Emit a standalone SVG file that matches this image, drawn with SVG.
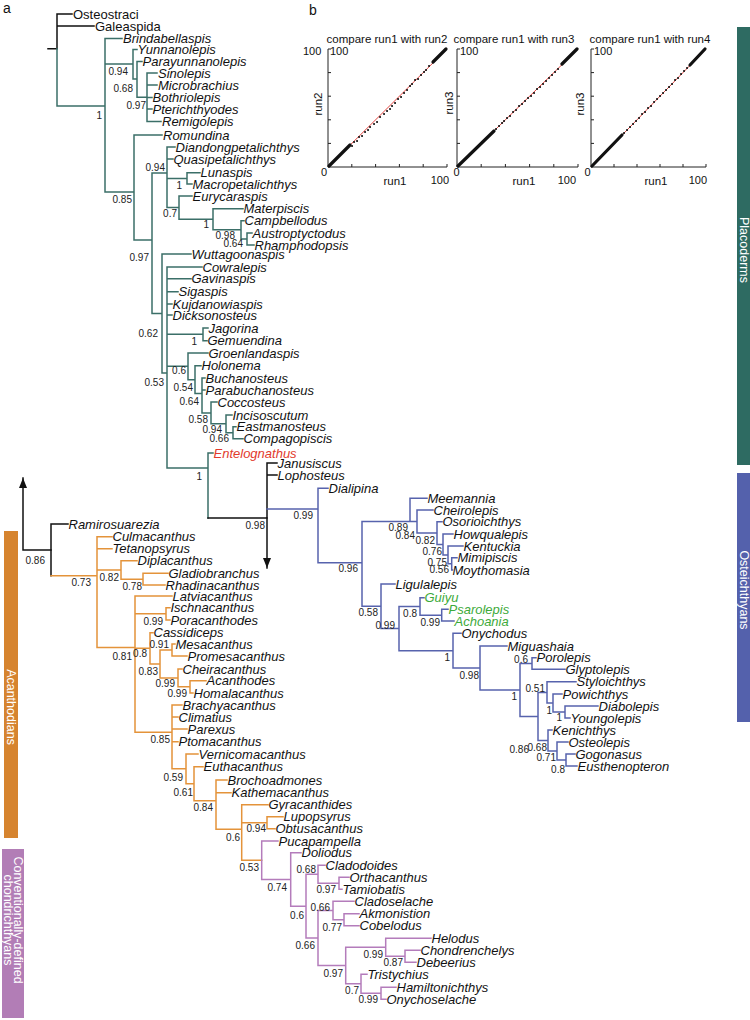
<svg xmlns="http://www.w3.org/2000/svg" width="750" height="1020" viewBox="0 0 750 1020">
<style>
.lf{font-family:"Liberation Sans",Arial,sans-serif;font-size:13px;font-style:italic;fill:#111}
.np{font-family:"Liberation Sans",Arial,sans-serif;font-size:13px;fill:#111}
.s{font-family:"Liberation Sans",Arial,sans-serif;font-size:10px;fill:#222;text-anchor:end}
.ax{font-family:"Liberation Sans",Arial,sans-serif;font-size:11px;fill:#111}
.axm{font-family:"Liberation Sans",Arial,sans-serif;font-size:11.5px;fill:#111;text-anchor:middle}
.pl{font-family:"Liberation Sans",Arial,sans-serif;font-size:14px;fill:#111}
.band{font-family:"Liberation Sans",Arial,sans-serif;font-size:12.5px;fill:#fff;text-anchor:middle}
.br{fill:none;stroke-width:1.5;stroke-linecap:square}
.k{stroke:#111}.te{stroke:#3b6f68}.bl{stroke:#5763ad}.or{stroke:#e4933a}.pu{stroke:#b47cbb}
.red{fill:#e23a2c}.grn{fill:#3daa3a}
.axis{fill:none;stroke:#222;stroke-width:1}
.rl{fill:none;stroke:#e0302a;stroke-width:0.9}
.dn{fill:none;stroke:#111;stroke-width:3.2;stroke-linecap:round}
.dt{fill:none;stroke:#111;stroke-width:2;stroke-linecap:round}
</style>
<defs>
<marker id="ah" viewBox="0 0 10 8" refX="10" refY="4" markerWidth="10" markerHeight="8" markerUnits="userSpaceOnUse" orient="auto"><path d="M0 0L10 4L0 8z" fill="#111"/></marker>
</defs>

<!-- panel labels -->
<text class="pl" x="3" y="13">a</text>
<text class="pl" x="309" y="15">b</text>

<!-- clade bands -->
<g id="band-placoderms"><rect x="737" y="27" width="13" height="438" fill="#2e6b62"/><text class="band" transform="translate(739.5,250) rotate(90)">Placoderms</text></g>
<g id="band-osteichthyans"><rect x="737" y="473" width="13" height="249" fill="#5461ac"/><text class="band" transform="translate(739.5,590) rotate(90)">Osteichthyans</text></g>
<g id="band-acanthodians"><rect x="4" y="531" width="14" height="307" fill="#d6842f"/><text class="band" transform="translate(6.5,707) rotate(90)">Acanthodians</text></g>
<g id="band-chondrichthyans"><rect x="2" y="849" width="22" height="169" fill="#b27db6"/><text class="band" transform="translate(14,920) rotate(90)">Conventionally-defined</text><text class="band" transform="translate(4,920) rotate(90)">chondrichthyans</text></g>

<!-- connectors -->
<g id="connectors">
<path class="br k" d="M48 48.7H57M57 14V48.7M57 14H72M57 26H94"/>
<path class="br te" d="M57 48.7V106H105M105 38.5V192M105 38.5H122
M105 64H133M133 49.5V79M133 49.5H137
M133 79H137M137 61.5V97.25M137 61.5H142
M137 97.25H147M147 73V121.5M147 73H157M147 85H157M147 97.5H152M147 109H152M147 121.5H161
M105 192H134M134 135V240M134 135H162
M134 240H152M152 173V313.5
M152 173H167M167 147V207.6M167 147H175M167 159H173
M167 178.4H187M187 172.7V184M187 172.7H200M187 184H192
M167 207.6H179M179 196V219.3M179 196H192
M179 219.3H213M213 208.7V229.85M213 208.7H243
M213 229.85H241M241 220.7V239M241 220.7H244
M241 239H247M247 233V245M247 233H252M247 245H254
M152 313.5H162M162 254V373M162 254H191
M162 373H167M167 267V468
M167 267H202M167 278.7H191M167 291.7H178M167 304H172M167 315H172
M167 334.35H203M203 328V340.7M203 328H208M203 340.7H207
M167 366.3H188M188 353V379.7M188 353H208
M188 379.7H195M195 365.7V393.6M195 365.7H201
M195 393.6H202M202 378V412.9M202 378H205M202 390H205
M202 412.9H211M211 402V423.85M211 402H217
M211 423.85H226M226 415V432.7M226 415H232
M226 432.7H233M233 426.7V438.7M233 426.7H236M233 438.7H243
M167 468H208M208 453V518M208 453H213"/>
<path class="br k" d="M208 518H267M267 463V518M267 463H277M267 475H277"/>
<path class="br k" d="M267 518V568" marker-end="url(#ah)"/>
<path class="br k" d="M51 550H23V478" marker-end="url(#ah)"/>
<path class="br k" d="M51 524V575.75M51 524H68"/>
<path class="br bl" d="M267 509H318M318 488.3V562.7M318 488.3H328
M318 562.7H362M362 521.5V606.3
M362 521.5H410M410 498.3V521.5M410 498.3H427
M410 521.5H417M417 510V533.1M417 510H433
M417 533.1H437M437 521.7V544.5M437 521.7H442
M437 544.5H443M443 534V554.9M443 534H453
M443 554.9H448M448 546V563.85M448 546H463
M448 563.85H451.7M451.7 557.7V570M451.7 557.7H457M451.7 570H452.5
M362 606.3H381M381 584V628.5M381 584H395
M381 628.5H399M399 606.4V650.7
M399 606.4H420M420 597.7V615.15M420 597.7H424
M420 615.15H441.7M441.7 609.3V621M441.7 609.3H448M441.7 621H454
M399 650.7H453M453 633.3V668M453 633.3H461
M453 668H480M480 646V690M480 646H507
M480 690H520M520 663.5V716.4
M520 663.5H532M532 657.7V669.3M532 657.7H536M532 669.3H565
M520 716.4H538M538 692.4V740.5
M538 692.4H547M547 681.7V703M547 681.7H576
M547 703H553M553 694V712M553 694H562
M553 712H565M565 706V718M565 706H598M565 718H570
M538 740.5H548M548 730V751M548 730H552
M548 751H557M557 742V760M557 742H568
M557 760H566M566 754V766M566 754H575M566 766H577"/>
<path class="br or" d="M51 575.75H97M97 536.7V647.6M97 536.7H112M97 548.7H112
M97 570H121M121 560.7V579.2M121 560.7H137
M121 579.2H143M143 573.3V585M143 573.3H168M143 585H165
M97 647.6H135M135 596V732.3M135 596H172
M135 613.85H166M166 607.7V620M166 607.7H170M166 620H170
M135 648.3H150M150 632.7V664M150 632.7H153
M150 664H160M160 650V677.9
M160 650H172M172 644V656M172 644H175M172 656H187
M160 677.9H178M178 669V686.85M178 669H182
M178 686.85H190M190 680.7V693M190 680.7H206M190 693H193
M135 732.3H172M172 705V768.85M172 705H182M172 717H178M172 729H187M172 741.7H178
M172 768.85H186M186 754V783.7M186 754H198
M186 783.7H194M194 766.7V800.7M194 766.7H203
M194 800.7H216M216 780V829.2M216 780H227M216 792.7H231
M216 829.2H241.7M241.7 804.7V860.2M241.7 804.7H268
M241.7 822.7H267M267 816.7V828.7M267 816.7H283M267 828.7H275
M241.7 860.2H261.7"/>
<path class="br pu" d="M261.7 841V879.4M261.7 841H278
M261.7 879.4H290.7M290.7 852.7V906.2M290.7 852.7H301
M290.7 906.2H306M306 874.3V938
M306 874.3H318M318 865.3V883.3M318 865.3H325
M318 883.3H339M339 877.3V889.3M339 877.3H349M339 889.3H342
M306 938H318M318 910.5V965.55
M318 910.5H333M333 901.3V919.7M333 901.3H354
M333 919.7H344M344 913.7V925.7M344 913.7H359M344 925.7H359
M318 965.55H345.7M345.7 947.3V983.8
M345.7 947.3H385.7M385.7 938.3V956.3M385.7 938.3H431
M385.7 956.3H405M405 950.3V962.3M405 950.3H420M405 962.3H416
M345.7 983.8H361M361 974.3V993.3M361 974.3H367
M361 993.3H381M381 987.3V999.3M381 987.3H396M381 999.3H386"/>
</g>

<!-- support values -->
<g id="support">
<text class="s" x="102" y="118.5">1</text>
<text class="s" x="128" y="74.5">0.94</text>
<text class="s" x="133" y="91.5">0.68</text>
<text class="s" x="146" y="108.5">0.97</text>
<text class="s" x="165" y="170.5">0.94</text>
<text class="s" x="182" y="188.5">1</text>
<text class="s" x="132" y="202.5">0.85</text>
<text class="s" x="177" y="216.5">0.7</text>
<text class="s" x="209" y="227.5">1</text>
<text class="s" x="235" y="238.5">0.98</text>
<text class="s" x="243" y="246.5">0.64</text>
<text class="s" x="149" y="260.5">0.97</text>
<text class="s" x="158" y="336.5">0.62</text>
<text class="s" x="197" y="344.5">1</text>
<text class="s" x="186" y="373.5">0.6</text>
<text class="s" x="164" y="385.5">0.53</text>
<text class="s" x="193" y="390.5">0.54</text>
<text class="s" x="199" y="404.5">0.64</text>
<text class="s" x="208" y="422.5">0.58</text>
<text class="s" x="222" y="432.5">0.94</text>
<text class="s" x="229" y="441.5">0.66</text>
<text class="s" x="202" y="479.5">1</text>
<text class="s" x="45" y="563.5">0.86</text>
<text class="s" x="265" y="528.5">0.98</text>
<text class="s" x="313" y="518.5">0.99</text>
<text class="s" x="358" y="571.5">0.96</text>
<text class="s" x="408" y="530.5">0.89</text>
<text class="s" x="415" y="538.5">0.84</text>
<text class="s" x="435" y="543.5">0.82</text>
<text class="s" x="442" y="554.5">0.76</text>
<text class="s" x="447" y="565.5">0.75</text>
<text class="s" x="449" y="572.5">0.56</text>
<text class="s" x="378" y="615.5">0.58</text>
<text class="s" x="395" y="628.5">0.99</text>
<text class="s" x="417" y="616.5">0.8</text>
<text class="s" x="440" y="625.5">0.99</text>
<text class="s" x="450" y="660.5">1</text>
<text class="s" x="479" y="678.5">0.98</text>
<text class="s" x="517" y="699.5">1</text>
<text class="s" x="528" y="662.5">0.6</text>
<text class="s" x="545" y="691.5">0.51</text>
<text class="s" x="552" y="713.5">1</text>
<text class="s" x="562" y="720.5">1</text>
<text class="s" x="529" y="752.5">0.86</text>
<text class="s" x="547" y="750.5">0.68</text>
<text class="s" x="556" y="760.5">0.71</text>
<text class="s" x="565" y="772.5">0.8</text>
<text class="s" x="91" y="585.5">0.73</text>
<text class="s" x="119" y="580.5">0.82</text>
<text class="s" x="142" y="589.5">0.78</text>
<text class="s" x="132" y="659.5">0.81</text>
<text class="s" x="163" y="624.5">0.99</text>
<text class="s" x="147" y="656.5">0.8</text>
<text class="s" x="169" y="647.5">0.91</text>
<text class="s" x="158" y="674.5">0.83</text>
<text class="s" x="175" y="686.5">0.99</text>
<text class="s" x="187" y="696.5">0.99</text>
<text class="s" x="170" y="742.5">0.85</text>
<text class="s" x="183" y="780.5">0.59</text>
<text class="s" x="193" y="795.5">0.61</text>
<text class="s" x="213" y="810.5">0.84</text>
<text class="s" x="240" y="840.5">0.6</text>
<text class="s" x="266" y="831.5">0.94</text>
<text class="s" x="259" y="870.5">0.53</text>
<text class="s" x="287" y="890.5">0.74</text>
<text class="s" x="304" y="918.5">0.6</text>
<text class="s" x="316" y="872.5">0.68</text>
<text class="s" x="336" y="892.5">0.97</text>
<text class="s" x="330" y="910.5">0.66</text>
<text class="s" x="315" y="948.5">0.66</text>
<text class="s" x="342" y="930.5">0.77</text>
<text class="s" x="343" y="976.5">0.97</text>
<text class="s" x="383" y="957.5">0.99</text>
<text class="s" x="403" y="965.5">0.87</text>
<text class="s" x="359" y="993.5">0.7</text>
<text class="s" x="378" y="1002.5">0.99</text>
</g>

<!-- taxa -->
<g id="t-Osteostraci"><text class="np" x="73" y="18.7">Osteostraci</text></g>
<g id="t-Galeaspida"><text class="np" x="95" y="30.7">Galeaspida</text></g>
<g id="t-Brindabellaspis"><text class="lf" x="123" y="43.2">Brindabellaspis</text></g>
<g id="t-Yunnanolepis"><text class="lf" x="137.5" y="54.2">Yunnanolepis</text></g>
<g id="t-Parayunnanolepis"><text class="lf" x="142.5" y="66.2">Parayunnanolepis</text></g>
<g id="t-Sinolepis"><text class="lf" x="158" y="77.7">Sinolepis</text></g>
<g id="t-Microbrachius"><text class="lf" x="158" y="89.7">Microbrachius</text></g>
<g id="t-Bothriolepis"><text class="lf" x="152.5" y="102.2">Bothriolepis</text></g>
<g id="t-Pterichthyodes"><text class="lf" x="152.5" y="113.7">Pterichthyodes</text></g>
<g id="t-Remigolepis"><text class="lf" x="162" y="126.2">Remigolepis</text></g>
<g id="t-Romundina"><text class="lf" x="163" y="139.7">Romundina</text></g>
<g id="t-Diandongpetalichthys"><text class="lf" x="175.5" y="151.7">Diandongpetalichthys</text></g>
<g id="t-Quasipetalichthys"><text class="lf" x="173.5" y="163.7">Quasipetalichthys</text></g>
<g id="t-Lunaspis"><text class="lf" x="200.5" y="177.4">Lunaspis</text></g>
<g id="t-Macropetalichthys"><text class="lf" x="192.5" y="188.7">Macropetalichthys</text></g>
<g id="t-Eurycaraspis"><text class="lf" x="192.5" y="200.7">Eurycaraspis</text></g>
<g id="t-Materpiscis"><text class="lf" x="243.5" y="213.4">Materpiscis</text></g>
<g id="t-Campbellodus"><text class="lf" x="244.5" y="225.4">Campbellodus</text></g>
<g id="t-Austroptyctodus"><text class="lf" x="252.5" y="237.7">Austroptyctodus</text></g>
<g id="t-Rhamphodopsis"><text class="lf" x="254.5" y="249.7">Rhamphodopsis</text></g>
<g id="t-Wuttagoonaspis"><text class="lf" x="191.5" y="258.7">Wuttagoonaspis</text></g>
<g id="t-Cowralepis"><text class="lf" x="202.5" y="271.7">Cowralepis</text></g>
<g id="t-Gavinaspis"><text class="lf" x="191.5" y="283.4">Gavinaspis</text></g>
<g id="t-Sigaspis"><text class="lf" x="178.5" y="296.4">Sigaspis</text></g>
<g id="t-Kujdanowiaspis"><text class="lf" x="172.5" y="308.7">Kujdanowiaspis</text></g>
<g id="t-Dicksonosteus"><text class="lf" x="172.5" y="319.7">Dicksonosteus</text></g>
<g id="t-Jagorina"><text class="lf" x="208.5" y="332.7">Jagorina</text></g>
<g id="t-Gemuendina"><text class="lf" x="207.5" y="345.4">Gemuendina</text></g>
<g id="t-Groenlandaspis"><text class="lf" x="208.5" y="357.7">Groenlandaspis</text></g>
<g id="t-Holonema"><text class="lf" x="201.5" y="370.4">Holonema</text></g>
<g id="t-Buchanosteus"><text class="lf" x="205.5" y="382.7">Buchanosteus</text></g>
<g id="t-Parabuchanosteus"><text class="lf" x="205.5" y="394.7">Parabuchanosteus</text></g>
<g id="t-Coccosteus"><text class="lf" x="217.5" y="406.7">Coccosteus</text></g>
<g id="t-Incisoscutum"><text class="lf" x="232.5" y="419.7">Incisoscutum</text></g>
<g id="t-Eastmanosteus"><text class="lf" x="236.5" y="431.4">Eastmanosteus</text></g>
<g id="t-Compagopiscis"><text class="lf" x="243.5" y="443.4">Compagopiscis</text></g>
<g id="t-Entelognathus"><text class="lf red" x="213.5" y="457.7">Entelognathus</text></g>
<g id="t-Janusiscus"><text class="lf" x="277.5" y="467.7">Janusiscus</text></g>
<g id="t-Lophosteus"><text class="lf" x="277.5" y="479.7">Lophosteus</text></g>
<g id="t-Dialipina"><text class="lf" x="328.5" y="493">Dialipina</text></g>
<g id="t-Meemannia"><text class="lf" x="427.5" y="503">Meemannia</text></g>
<g id="t-Cheirolepis"><text class="lf" x="433.5" y="514.7">Cheirolepis</text></g>
<g id="t-Osorioichthys"><text class="lf" x="442.5" y="526.4">Osorioichthys</text></g>
<g id="t-Howqualepis"><text class="lf" x="453.5" y="538.7">Howqualepis</text></g>
<g id="t-Kentuckia"><text class="lf" x="463.5" y="550.7">Kentuckia</text></g>
<g id="t-Mimipiscis"><text class="lf" x="457.5" y="562.4">Mimipiscis</text></g>
<g id="t-Moythomasia"><text class="lf" x="452.5" y="574.7">Moythomasia</text></g>
<g id="t-Ligulalepis"><text class="lf" x="395.5" y="588.7">Ligulalepis</text></g>
<g id="t-Guiyu"><text class="lf grn" x="424.5" y="602.4">Guiyu</text></g>
<g id="t-Psarolepis"><text class="lf grn" x="448.5" y="614">Psarolepis</text></g>
<g id="t-Achoania"><text class="lf grn" x="454.5" y="625.7">Achoania</text></g>
<g id="t-Onychodus"><text class="lf" x="461.5" y="638">Onychodus</text></g>
<g id="t-Miguashaia"><text class="lf" x="507.5" y="650.7">Miguashaia</text></g>
<g id="t-Porolepis"><text class="lf" x="536.5" y="662.4">Porolepis</text></g>
<g id="t-Glyptolepis"><text class="lf" x="565.5" y="674">Glyptolepis</text></g>
<g id="t-Styloichthys"><text class="lf" x="576.5" y="686.4">Styloichthys</text></g>
<g id="t-Powichthys"><text class="lf" x="562.5" y="698.7">Powichthys</text></g>
<g id="t-Diabolepis"><text class="lf" x="598.5" y="710.7">Diabolepis</text></g>
<g id="t-Youngolepis"><text class="lf" x="570.5" y="722.7">Youngolepis</text></g>
<g id="t-Kenichthys"><text class="lf" x="552.5" y="734.7">Kenichthys</text></g>
<g id="t-Osteolepis"><text class="lf" x="568.5" y="746.7">Osteolepis</text></g>
<g id="t-Gogonasus"><text class="lf" x="575.5" y="758.7">Gogonasus</text></g>
<g id="t-Eusthenopteron"><text class="lf" x="577.5" y="770.7">Eusthenopteron</text></g>
<g id="t-Ramirosuarezia"><text class="lf" x="68.5" y="528.7">Ramirosuarezia</text></g>
<g id="t-Culmacanthus"><text class="lf" x="112.5" y="541.4">Culmacanthus</text></g>
<g id="t-Tetanopsyrus"><text class="lf" x="112.5" y="553.4">Tetanopsyrus</text></g>
<g id="t-Diplacanthus"><text class="lf" x="137.5" y="565.4">Diplacanthus</text></g>
<g id="t-Gladiobranchus"><text class="lf" x="168.5" y="578">Gladiobranchus</text></g>
<g id="t-Rhadinacanthus"><text class="lf" x="165.5" y="589.7">Rhadinacanthus</text></g>
<g id="t-Latviacanthus"><text class="lf" x="172.5" y="600.7">Latviacanthus</text></g>
<g id="t-Ischnacanthus"><text class="lf" x="170.5" y="612.4">Ischnacanthus</text></g>
<g id="t-Poracanthodes"><text class="lf" x="170.5" y="624.7">Poracanthodes</text></g>
<g id="t-Cassidiceps"><text class="lf" x="153.5" y="637.4">Cassidiceps</text></g>
<g id="t-Mesacanthus"><text class="lf" x="175.5" y="648.7">Mesacanthus</text></g>
<g id="t-Promesacanthus"><text class="lf" x="187.5" y="660.7">Promesacanthus</text></g>
<g id="t-Cheiracanthus"><text class="lf" x="182.5" y="673.7">Cheiracanthus</text></g>
<g id="t-Acanthodes"><text class="lf" x="206.5" y="685.4">Acanthodes</text></g>
<g id="t-Homalacanthus"><text class="lf" x="193.5" y="697.7">Homalacanthus</text></g>
<g id="t-Brachyacanthus"><text class="lf" x="182.5" y="709.7">Brachyacanthus</text></g>
<g id="t-Climatius"><text class="lf" x="178.5" y="721.7">Climatius</text></g>
<g id="t-Parexus"><text class="lf" x="187.5" y="733.7">Parexus</text></g>
<g id="t-Ptomacanthus"><text class="lf" x="178.5" y="746.4">Ptomacanthus</text></g>
<g id="t-Vernicomacanthus"><text class="lf" x="198.5" y="758.7">Vernicomacanthus</text></g>
<g id="t-Euthacanthus"><text class="lf" x="203.5" y="771.4">Euthacanthus</text></g>
<g id="t-Brochoadmones"><text class="lf" x="227.5" y="784.7">Brochoadmones</text></g>
<g id="t-Kathemacanthus"><text class="lf" x="231.5" y="797.4">Kathemacanthus</text></g>
<g id="t-Gyracanthides"><text class="lf" x="268.5" y="809.4">Gyracanthides</text></g>
<g id="t-Lupopsyrus"><text class="lf" x="283.5" y="821.4">Lupopsyrus</text></g>
<g id="t-Obtusacanthus"><text class="lf" x="275.5" y="833.4">Obtusacanthus</text></g>
<g id="t-Pucapampella"><text class="lf" x="278.5" y="845.7">Pucapampella</text></g>
<g id="t-Doliodus"><text class="lf" x="301.5" y="857.4">Doliodus</text></g>
<g id="t-Cladodoides"><text class="lf" x="325.5" y="870">Cladodoides</text></g>
<g id="t-Orthacanthus"><text class="lf" x="349.5" y="882">Orthacanthus</text></g>
<g id="t-Tamiobatis"><text class="lf" x="342.5" y="894">Tamiobatis</text></g>
<g id="t-Cladoselache"><text class="lf" x="354.5" y="906">Cladoselache</text></g>
<g id="t-Akmonistion"><text class="lf" x="359.5" y="918.4">Akmonistion</text></g>
<g id="t-Cobelodus"><text class="lf" x="359.5" y="930.4">Cobelodus</text></g>
<g id="t-Helodus"><text class="lf" x="431.5" y="943">Helodus</text></g>
<g id="t-Chondrenchelys"><text class="lf" x="420.5" y="955">Chondrenchelys</text></g>
<g id="t-Debeerius"><text class="lf" x="416.5" y="967">Debeerius</text></g>
<g id="t-Tristychius"><text class="lf" x="367.5" y="979">Tristychius</text></g>
<g id="t-Hamiltonichthys"><text class="lf" x="396.5" y="992">Hamiltonichthys</text></g>
<g id="t-Onychoselache"><text class="lf" x="386.5" y="1004">Onychoselache</text></g>

<!-- panel b scatter plots -->
<g id="plot1">
<text class="axm" x="387" y="43">compare run1 with run2</text>
<path class="axis" d="M328 49V167H447M328 49h3M328 72.6h3M328 96.2h3M328 119.8h3M328 143.4h3M351.8 167v-3M375.6 167v-3M399.4 167v-3M423.2 167v-3M447 167v-3"/>
<path class="rl" d="M328 167L446 50"/>
<path class="dn" d="M329 166L350 145M433 62L446 49"/>
<path class="dt" d="M352 146h.1M354 142h.1M357 141h.1M359 137h.1M362 136h.1M365 132h.1M368 130h.1M370 127h.1M374 124h.1M377 122h.1M380 117h.1M384 114h.1M387 111h.1M390 109h.1M392 106h.1M395 103h.1M398 99h.1M401 97h.1M404 93h.1M407 90h.1M410 86h.1M412 84h.1M415 80h.1M418 79h.1M421 75h.1M424 72h.1M426 70h.1M429 66h.1"/>
<text class="ax" x="303" y="55">100</text>
<text class="ax" x="330" y="55">100</text>
<text class="ax" x="321" y="176">0</text>
<text class="ax" x="449" y="184" text-anchor="end">100</text>
<text class="axm" x="395" y="185">run1</text>
<text class="axm" transform="translate(322,104) rotate(-90)">run2</text>
</g>
<g id="plot2">
<text class="axm" x="514" y="43">compare run1 with run3</text>
<path class="axis" d="M457 49V167H578M457 49h3M457 72.6h3M457 96.2h3M457 119.8h3M457 143.4h3M481.2 167v-3M505.4 167v-3M529.6 167v-3M553.8 167v-3M578 167v-3"/>
<path class="rl" d="M457 167L577 50"/>
<path class="dn" d="M458 166L494 131M562 64L577 49"/>
<path class="dt" d="M496 129h.1M499 126h.1M502 123h.1M504 121h.1M507 118h.1M510 116h.1M513 112h.1M516 110h.1M519 106h.1M522 104h.1M525 101h.1M528 98h.1M531 96h.1M534 93h.1M537 89h.1M540 87h.1M543 84h.1M546 81h.1M549 78h.1M552 75h.1M555 72h.1M558 69h.1"/>
<text class="ax" x="460" y="55">100</text>
<text class="ax" x="453.5" y="176">0</text>
<text class="ax" x="576" y="184" text-anchor="end">100</text>
<text class="axm" x="524" y="185">run1</text>
<text class="axm" transform="translate(453,103) rotate(-90)">run3</text>
</g>
<g id="plot3">
<text class="axm" x="650" y="43">compare run1 with run4</text>
<path class="axis" d="M591 49V167H706M591 49h3M591 72.6h3M591 96.2h3M591 119.8h3M591 143.4h3M614 167v-3M637 167v-3M660 167v-3M683 167v-3M706 167v-3"/>
<path class="rl" d="M591 167L705 50"/>
<path class="dn" d="M592 166L622 135M690 65L705 49"/>
<path class="dt" d="M624 133h.1M627 130h.1M630 127h.1M633 124h.1M636 121h.1M639 118h.1M642 114h.1M645 112h.1M648 108h.1M651 106h.1M654 102h.1M657 99h.1M660 96h.1M663 93h.1M666 90h.1M669 87h.1M672 84h.1M675 80h.1M678 78h.1M681 74h.1M684 71h.1M687 68h.1"/>
<text class="ax" x="594" y="55">100</text>
<text class="ax" x="584.5" y="176">0</text>
<text class="ax" x="707" y="184" text-anchor="end">100</text>
<text class="axm" x="656" y="185">run1</text>
<text class="axm" transform="translate(584,104) rotate(-90)">run3</text>
</g>
</svg>
